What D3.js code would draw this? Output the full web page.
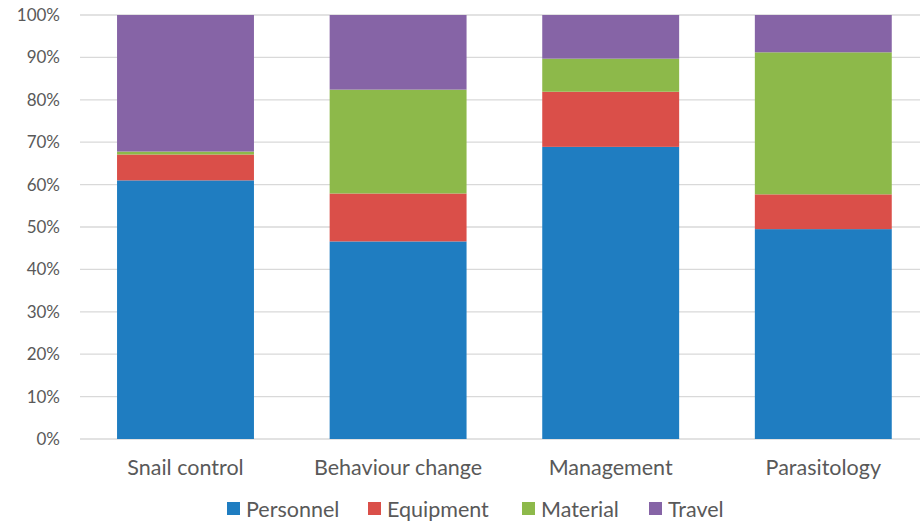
<!DOCTYPE html>
<html><head><meta charset="utf-8">
<script src="https://cdn.jsdelivr.net/npm/d3@7"></script>
<style>
html,body{margin:0;padding:0;background:#fff;}
svg{display:block;}
text{font-family:Lato,"Open Sans",sans-serif;}
</style></head>
<body><svg id="c" width="920" height="522"></svg>
<script>
const categories = ["Snail control","Behaviour change","Management","Parasitology"];
const seriesNames = ["Personnel","Equipment","Material","Travel"];
const personnel = [61.0, 46.6, 68.9, 49.5];
const equipment = [6.1, 11.3, 13.0, 8.2];
const material  = [0.7, 24.5, 7.8, 33.5];
const travel    = [32.2, 17.6, 10.3, 8.8];
const colors = ["#1f7dc1","#da4f49","#8db94a","#8664a6"];
const yTicks = [0,10,20,30,40,50,60,70,80,90,100];

const rows = categories.map((c,i)=>({cat:c, Personnel:personnel[i], Equipment:equipment[i], Material:material[i], Travel:travel[i]}));
const stacked = d3.stack().keys(seriesNames)(rows);

const svg = d3.select("#c");
const x = d3.scaleBand().domain(categories).range([79.2, 929.6]).paddingInner(0.356).paddingOuter(0.178);
const y = d3.scaleLinear().domain([0,100]).range([439,15]);

// gridlines
svg.append("g").selectAll("line").data(yTicks).join("line")
  .attr("x1",80).attr("x2",920)
  .attr("y1",d=>y(d)).attr("y2",d=>y(d))
  .attr("stroke","#d9d9d9").attr("stroke-width",1.3);

// y axis labels
const yAxis = d3.axisLeft(y).tickValues(yTicks).tickFormat(d=>d+"%").tickSize(0).tickPadding(0);
const gy = svg.append("g").attr("transform","translate(60,0)").call(yAxis);
gy.select(".domain").remove();
gy.selectAll("text").attr("fill","#595959").style("font-size","17px").style("font-family","Lato,sans-serif");

// bars
svg.append("g").selectAll("g").data(stacked).join("g")
  .attr("fill",(d,i)=>colors[i])
  .selectAll("rect").data(d=>d).join("rect")
  .attr("x",d=>x(d.data.cat))
  .attr("width",x.bandwidth())
  .attr("y",d=>y(d[1]))
  .attr("height",d=>y(d[0])-y(d[1]));

// x axis labels
const xAxis = d3.axisBottom(x).tickSize(0).tickPadding(0);
const gx = svg.append("g").attr("transform","translate(0,0)").call(xAxis);
gx.select(".domain").remove();
gx.selectAll("text").attr("dy",null).attr("y",475).attr("fill","#595959")
  .style("font-size","21.5px").style("font-family","Lato,sans-serif");

// legend
const legendX = [227, 368, 522, 649];
const lg = svg.append("g").selectAll("g").data(seriesNames).join("g")
  .attr("transform",(d,i)=>`translate(${legendX[i]},502)`);
lg.append("rect").attr("width",13).attr("height",13).attr("fill",(d,i)=>colors[i]);
lg.append("text").attr("x",19).attr("y",15)
  .attr("fill","#595959").style("font-size","21.5px").text(d=>d);
</script></body></html>
